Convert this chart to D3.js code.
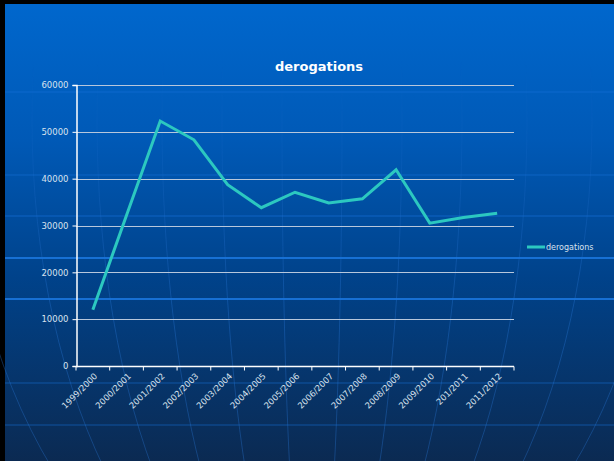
<!DOCTYPE html>
<html>
<head>
<meta charset="utf-8">
<script src="https://cdn.jsdelivr.net/npm/d3@7"></script>
<style>
  html, body { margin: 0; padding: 0; background: #ffffff; }
  svg { display: block; }
</style>
</head>
<body>
<svg id="chart" width="614" height="461"></svg>
<script>
// Seasons and yearly derogation counts
const categories = ["1999/2000", "2000/2001", "2001/2002", "2002/2003", "2003/2004", "2004/2005",
  "2005/2006", "2006/2007", "2007/2008", "2008/2009", "2009/2010", "201/2011", "2011/2012"];
const derogations = [12000, 32200, 52300, 48300, 38700, 33800, 37100, 34800, 35700, 41900, 30500, 31700, 32600];
const yTicks = [0, 10000, 20000, 30000, 40000, 50000, 60000];
const seriesName = "derogations";
const chartTitle = "derogations";

(function () {
const W = 614, H = 461;
const svg = d3.select("#chart");
const defs = svg.append("defs");

// Slide background gradient
const grad = defs.append("linearGradient").attr("id", "bg").attr("x1", 0).attr("y1", 0).attr("x2", 0).attr("y2", 1);
grad.append("stop").attr("offset", "0%").attr("stop-color", "#0067cd");
grad.append("stop").attr("offset", "30%").attr("stop-color", "#0059b6");
grad.append("stop").attr("offset", "60%").attr("stop-color", "#00428a");
grad.append("stop").attr("offset", "100%").attr("stop-color", "#0b2a52");

// Fade for the globe meridians (invisible near the top)
const fade = defs.append("linearGradient").attr("id", "fade").attr("x1", 0).attr("y1", 0).attr("x2", 0).attr("y2", 1)
  .attr("gradientUnits", "userSpaceOnUse").attr("x2", 0).attr("y1", 60).attr("y2", 300);
fade.append("stop").attr("offset", "0%").attr("stop-color", "#fff").attr("stop-opacity", 0);
fade.append("stop").attr("offset", "100%").attr("stop-color", "#fff").attr("stop-opacity", 1);
defs.append("mask").attr("id", "fadeMask").attr("maskUnits", "userSpaceOnUse")
  .attr("x", 0).attr("y", 0).attr("width", W).attr("height", H)
  .append("rect").attr("width", W).attr("height", H).attr("fill", "url(#fade)");

// Frame
svg.append("rect").attr("x", 0).attr("y", 0).attr("width", W).attr("height", H).attr("fill", "#000");
svg.append("rect").attr("x", 5).attr("y", 4).attr("width", W - 5).attr("height", H - 4).attr("fill", "url(#bg)");

// Globe decoration: meridians converging below the slide, latitude bands
const deco = svg.append("g").attr("fill", "none");
const mer = deco.append("g").attr("mask", "url(#fadeMask)");
[30, 90, 150, 215, 280, 350, 420].forEach(rx => {
  mer.append("ellipse").attr("cx", 312).attr("cy", 120).attr("rx", rx).attr("ry", 520)
    .attr("stroke", "#2a78d8").attr("stroke-opacity", 0.35).attr("stroke-width", 1);
});
[[92, 0.35], [175, 0.35], [216, 0.4], [258, 0.9], [299, 0.9], [383, 0.35], [425, 0.35]].forEach(([yy, op]) => {
  const strong = op > 0.5;
  deco.append("line").attr("x1", 5).attr("x2", W).attr("y1", yy).attr("y2", yy)
    .attr("stroke", "#1a74dc").attr("stroke-opacity", op)
    .attr("stroke-width", strong ? 2 : 1.5);
});

// Plot area
const pLeft = 76, pRight = 514, pTop = 85, pBottom = 366;
const x = d3.scaleBand().domain(categories).range([pLeft, pRight]).padding(0);
const y = d3.scaleLinear().domain([0, 60000]).range([pBottom, pTop]);

const labelColor = "#d9e2ee";
const font = "DejaVu Sans, Verdana, sans-serif";

// Horizontal gridlines
svg.append("g").selectAll("line").data(yTicks.filter(d => d > 0)).join("line")
  .attr("x1", pLeft).attr("x2", pRight)
  .attr("y1", d => Math.round(y(d)) + 0.5).attr("y2", d => Math.round(y(d)) + 0.5)
  .attr("stroke", "#b7c7dc").attr("stroke-width", 1);

// Y axis
const yAxis = svg.append("g").attr("transform", `translate(${pLeft + 0.5},0)`)
  .call(d3.axisLeft(y).tickValues(yTicks).tickSize(4).tickFormat(d3.format("d")));
yAxis.select(".domain").attr("stroke", "#ffffff").attr("stroke-width", 1.5);
yAxis.selectAll(".tick line").attr("stroke", "#ffffff");
yAxis.selectAll(".tick text").attr("fill", labelColor).attr("font-size", 8.5)
  .attr("font-family", font).attr("x", -8);

// X axis with ticks at category boundaries
const xAxisG = svg.append("g").attr("transform", `translate(0,${pBottom + 0.5})`);
xAxisG.append("line").attr("x1", pLeft).attr("x2", pRight).attr("stroke", "#ffffff").attr("stroke-width", 1.5);
const bounds = categories.map(c => x(c)).concat([pRight]);
xAxisG.selectAll("line.tk").data(bounds).join("line").attr("class", "tk")
  .attr("x1", d => d).attr("x2", d => d).attr("y1", 0).attr("y2", 4)
  .attr("stroke", "#ffffff").attr("stroke-width", 1);
xAxisG.selectAll("text").data(categories).join("text")
  .attr("transform", d => `translate(${x(d) + x.bandwidth() / 2 + 3},${8}) rotate(-45)`)
  .attr("text-anchor", "end").attr("dy", "0.35em")
  .attr("fill", labelColor).attr("font-size", 8.5).attr("font-family", font)
  .text(d => d);

// Series line
const line = d3.line()
  .x((d, i) => x(categories[i]) + x.bandwidth() / 2)
  .y(d => y(d));
svg.append("path").datum(derogations)
  .attr("d", line).attr("fill", "none")
  .attr("stroke", "#2cc8c0").attr("stroke-width", 3).attr("stroke-linejoin", "miter");

// Title
svg.append("text").attr("x", 319).attr("y", 71).attr("text-anchor", "middle")
  .attr("fill", "#ffffff").attr("font-family", font).attr("font-weight", "bold").attr("font-size", 13)
  .text(chartTitle);

// Legend
const lg = svg.append("g").attr("transform", "translate(527,247)");
lg.append("line").attr("x1", 0).attr("x2", 18).attr("y1", 0).attr("y2", 0)
  .attr("stroke", "#2cc8c0").attr("stroke-width", 3);
lg.append("text").attr("x", 19).attr("y", 0).attr("dy", "0.35em")
  .attr("fill", labelColor).attr("font-size", 8).attr("font-family", font)
  .text(seriesName);
})();
</script>
</body>
</html>
